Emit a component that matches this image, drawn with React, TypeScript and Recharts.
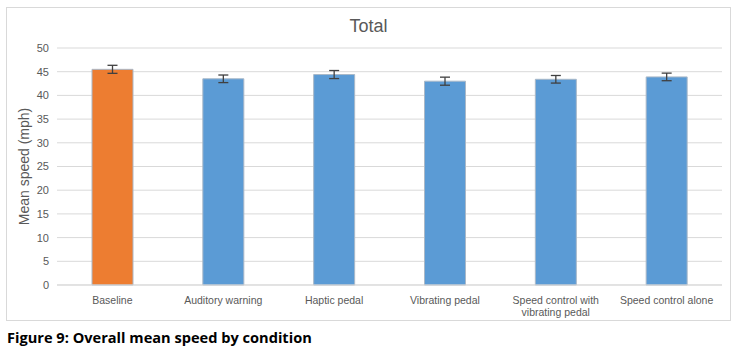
import React from 'react';
import { BarChart, Bar, XAxis, YAxis, CartesianGrid, ErrorBar, Cell, Label } from 'recharts';

const categories = [
  'Baseline',
  'Auditory warning',
  'Haptic pedal',
  'Vibrating pedal',
  'Speed control with vibrating pedal',
  'Speed control alone',
];
const meanSpeed = [45.5, 43.5, 44.4, 43.0, 43.4, 43.9];
const errors = [0.85, 0.8, 0.85, 0.85, 0.8, 0.8];
const yTicks = [0, 5, 10, 15, 20, 25, 30, 35, 40, 45, 50];
const barColors = ['#ED7D31', '#5B9BD5', '#5B9BD5', '#5B9BD5', '#5B9BD5', '#5B9BD5'];

const data = categories.map((c, i) => ({ name: c, value: meanSpeed[i], err: errors[i] }));

const FONT = '"Liberation Sans", Arial, sans-serif';

const wrapLabel = (s: string): string[] => {
  if (s === 'Speed control with vibrating pedal') return ['Speed control with', 'vibrating pedal'];
  return [s];
};

const XTick = (props: any) => {
  const { x, y, payload } = props;
  const lines = wrapLabel(payload.value);
  return (
    <g transform={`translate(${x},${y})`}>
      {lines.map((l, i) => (
        <text key={i} x={0} y={11 + i * 12} textAnchor="middle" fill="#595959" fontSize={10.5} fontFamily={FONT}>
          {l}
        </text>
      ))}
    </g>
  );
};

export default function App() {
  return (
    <div style={{ position: 'absolute', left: 0, top: 0, width: 738, height: 353, background: '#fff' }}>
      <div
        style={{
          position: 'absolute',
          left: 6,
          top: 7,
          width: 723,
          height: 312,
          border: '1px solid #d9d9d9',
        }}
      >
        <div
          style={{
            position: 'absolute',
            left: 0,
            width: 723,
            top: 8,
            textAlign: 'center',
            fontFamily: FONT,
            fontSize: 18,
            color: '#595959',
          }}
        >
          Total
        </div>
        <BarChart width={723} height={312} data={data} margin={{ top: 40, right: 8, left: 0, bottom: 0 }}>
          <CartesianGrid vertical={false} stroke="#d9d9d9" />
          <XAxis
            dataKey="name"
            interval={0}
            height={35}
            tick={<XTick />}
            tickLine={false}
            axisLine={{ stroke: '#d9d9d9' }}
          />
          <YAxis
            width={50}
            domain={[0, 50]}
            ticks={yTicks}
            axisLine={false}
            tickLine={false}
            tick={{ fill: '#595959', fontSize: 11, fontFamily: FONT }}
          >
            <Label
              value="Mean speed (mph)"
              angle={-90}
              position="insideLeft"
              offset={17}
              style={{ textAnchor: 'middle', fill: '#595959', fontSize: 14, fontFamily: FONT }}
            />
          </YAxis>
          <Bar dataKey="value" barSize={41} isAnimationActive={false} stroke="#a9b8c8" strokeWidth={1}>
            {data.map((d, i) => (
              <Cell key={i} fill={barColors[i]} />
            ))}
            <ErrorBar dataKey="err" width={5} stroke="#404040" strokeWidth={1.3} />
          </Bar>
        </BarChart>
      </div>
      <div
        style={{
          position: 'absolute',
          left: 7,
          top: 327,
          fontFamily: '"Open Sans", sans-serif',
          fontWeight: 'bold',
          fontSize: 14.6,
          color: '#000',
        }}
      >
        Figure 9: Overall mean speed by condition
      </div>
    </div>
  );
}
